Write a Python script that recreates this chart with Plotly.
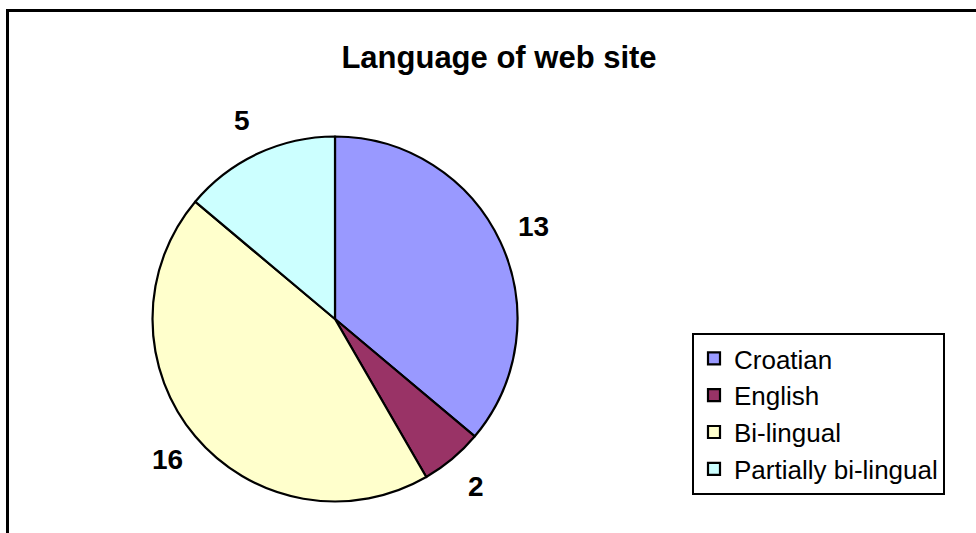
import math
import plotly.graph_objects as go

# Data
categories = ["Croatian", "English", "Bi-lingual", "Partially bi-lingual"]
values = [13, 2, 16, 5]
colors = ["#9999FF", "#993366", "#FFFFCC", "#CCFFFF"]
title_text = "Language of web site"

W, H = 976, 533
# pie placement (pixels)
CX, CY, R = 335, 319, 182.5
dom_x = [(CX - R) / W, (CX + R) / W]
dom_y = [(H - (CY + R)) / H, (H - (CY - R)) / H]

FONT = "Liberation Sans, Arial, sans-serif"

fig = go.Figure()
fig.add_trace(go.Pie(
    labels=categories,
    values=values,
    sort=False,
    direction="clockwise",
    rotation=0,
    marker=dict(colors=colors, line=dict(color="black", width=2.2)),
    textinfo="none",
    hoverinfo="label+value",
    domain=dict(x=dom_x, y=dom_y),
))

# data labels placed outside along each slice's mid angle
total = sum(values)
annotations = []
cum = 0
for v in values:
    mid = (cum + v / 2) / total * 2 * math.pi
    cum += v
    px = CX + 1.2 * R * math.sin(mid)
    py = CY - 1.2 * R * math.cos(mid)
    annotations.append(dict(
        x=px / W, y=(H - py) / H, xref="paper", yref="paper",
        text=f"<b>{v}</b>", showarrow=False,
        font=dict(family=FONT, size=28, color="black"),
        xanchor="center", yanchor="middle",
    ))

fig.update_layout(
    width=W, height=H,
    margin=dict(l=0, r=0, t=0, b=0),
    paper_bgcolor="white",
    plot_bgcolor="white",
    font=dict(family=FONT, color="black"),
    title=dict(
        text=f"<b>{title_text}</b>",
        x=499 / W, xanchor="center",
        y=(H - 57) / H, yanchor="middle",
        yref="paper", xref="paper",
        font=dict(size=31, family=FONT, color="black"),
    ),
    legend=dict(
        x=692 / W, xanchor="left",
        y=(H - 333) / H, yanchor="top",
        bordercolor="black", borderwidth=2,
        bgcolor="white",
        font=dict(size=26, family=FONT, color="black"),
        itemwidth=30,
    ),
    annotations=annotations,
    shapes=[dict(
        type="rect", xref="paper", yref="paper",
        x0=7.5 / W, x1=1.02, y0=-0.02, y1=(H - 10.5) / H,
        line=dict(color="black", width=3), fillcolor="rgba(0,0,0,0)",
    )],
)

fig.write_html(
    "out.html",
    config={"displayModeBar": False},
    post_script="document.body.style.margin='0';document.body.style.overflow='hidden';",
)
